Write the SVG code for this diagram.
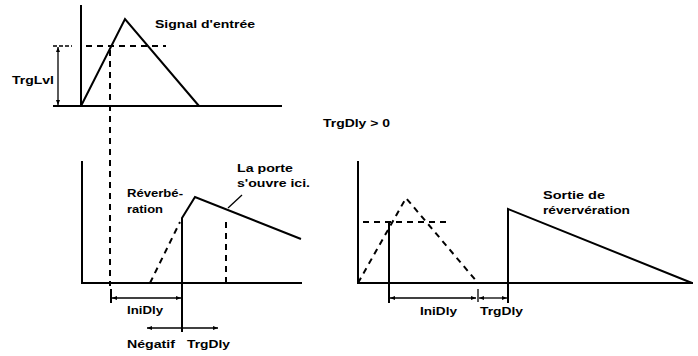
<svg xmlns="http://www.w3.org/2000/svg" width="698" height="356" viewBox="0 0 698 356">
<defs>
<marker id="ah" viewBox="0 0 10 10" refX="10" refY="5" markerWidth="5" markerHeight="5" orient="auto-start-reverse" markerUnits="userSpaceOnUse">
<path d="M0,1 L10,5 L0,9 Z" fill="#000"/>
</marker>
<style>
.ln{fill:none;stroke:#000;stroke-width:2;stroke-linejoin:miter}
.th{fill:none;stroke:#000;stroke-width:1.3}
.ds{fill:none;stroke:#000;stroke-width:2;stroke-dasharray:6 5}
.ar{fill:none;stroke:#000;stroke-width:1.3;marker-start:url(#ah);marker-end:url(#ah)}
.ar1{fill:none;stroke:#000;stroke-width:1.3;marker-end:url(#ah)}
text{font-family:"Liberation Sans",Arial,sans-serif;font-weight:bold;font-size:11.5px;fill:#000}
</style>
</defs>
<rect width="698" height="356" fill="#fff"/>

<g id="input-signal">
<line class="ln" x1="81" y1="5" x2="81" y2="107"/>
<line class="ln" x1="53" y1="106" x2="282" y2="106"/>
<polyline class="ln" points="81,106 125,19 199,106"/>
<line class="ds" x1="86" y1="46" x2="166" y2="46"/>
<line class="th" x1="53" y1="46" x2="72" y2="46" stroke-dasharray="4 2"/>
<line class="ar" x1="58" y1="47" x2="58" y2="105"/>
<text x="12" y="84" textLength="42" lengthAdjust="spacingAndGlyphs">TrgLvl</text>
<text x="155" y="28" textLength="100" lengthAdjust="spacingAndGlyphs">Signal d'entrée</text>
</g>

<g id="trigger-line">
<line class="ds" x1="110" y1="50" x2="110" y2="286"/>
</g>

<g id="reverb-negative">
<line class="ln" x1="82" y1="161" x2="82" y2="284"/>
<line class="ln" x1="81" y1="283" x2="302" y2="283"/>
<line class="ds" x1="150" y1="283" x2="180" y2="222"/>
<polyline class="ln" points="182,332 182,218 195,197 301,239"/>
<line class="ds" x1="226" y1="222" x2="226" y2="283"/>
<line class="th" x1="242" y1="195" x2="228" y2="208" stroke-width="1.6"/>
<text x="237" y="172" textLength="56" lengthAdjust="spacingAndGlyphs">La porte</text>
<text x="237" y="187" textLength="73" lengthAdjust="spacingAndGlyphs">s'ouvre ici.</text>
<text x="127" y="197" textLength="56" lengthAdjust="spacingAndGlyphs">Réverbé-</text>
<text x="127" y="213" textLength="36" lengthAdjust="spacingAndGlyphs">ration</text>
</g>

<g id="left-dims">
<line class="ln" x1="111" y1="289" x2="111" y2="303"/>
<line class="ar" x1="112" y1="298" x2="181" y2="298"/>
<line class="ar" x1="147" y1="328" x2="218" y2="328"/>
<text x="127" y="314" textLength="36" lengthAdjust="spacingAndGlyphs">IniDly</text>
<text x="127" y="348" textLength="48" lengthAdjust="spacingAndGlyphs">Négatif</text>
<text x="187" y="348" textLength="43" lengthAdjust="spacingAndGlyphs">TrgDly</text>
</g>

<g id="caption">
<text x="323" y="127" textLength="67" lengthAdjust="spacingAndGlyphs">TrgDly &gt; 0</text>
</g>

<g id="reverb-positive">
<line class="ln" x1="358" y1="161" x2="358" y2="284"/>
<line class="ln" x1="357" y1="283" x2="693" y2="283"/>
<polyline class="ds" points="358,283 406,198 478,283"/>
<line class="ds" x1="363" y1="222" x2="446" y2="222"/>
<line class="ln" x1="389" y1="222" x2="389" y2="303"/>
<polyline class="ln" points="508,303 508,209 692,283"/>
<text x="543" y="199" textLength="62" lengthAdjust="spacingAndGlyphs">Sortie de</text>
<text x="543" y="214" textLength="87" lengthAdjust="spacingAndGlyphs">révervération</text>
</g>

<g id="right-dims">
<line class="th" x1="478" y1="289" x2="478" y2="302"/>
<line class="ar" x1="390" y1="298" x2="476" y2="298"/>
<line class="ar" x1="479" y1="298" x2="507" y2="298"/>
<text x="420" y="315" textLength="37" lengthAdjust="spacingAndGlyphs">IniDly</text>
<text x="480" y="315" textLength="43" lengthAdjust="spacingAndGlyphs">TrgDly</text>
</g>
</svg>
